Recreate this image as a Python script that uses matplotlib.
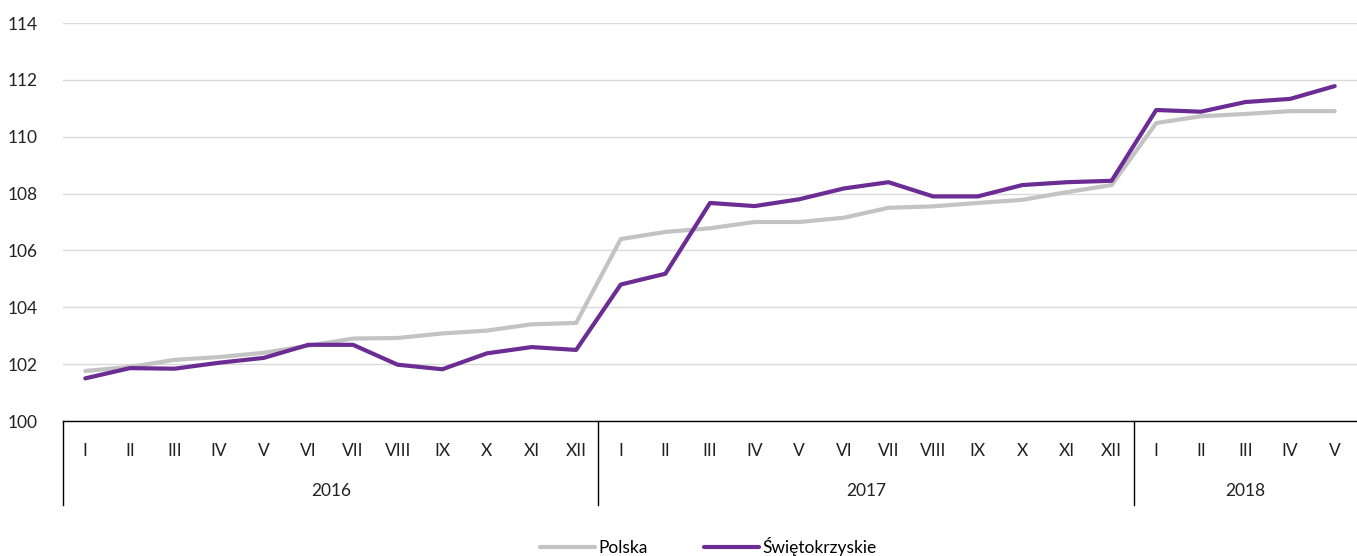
import matplotlib
matplotlib.use("Agg")
import matplotlib.pyplot as plt
import matplotlib.transforms as mtransforms
from matplotlib.lines import Line2D

plt.rcParams['font.family'] = ['Lato', 'DejaVu Sans']

# data
months = ['I', 'II', 'III', 'IV', 'V', 'VI', 'VII', 'VIII', 'IX', 'X', 'XI', 'XII',
          'I', 'II', 'III', 'IV', 'V', 'VI', 'VII', 'VIII', 'IX', 'X', 'XI', 'XII',
          'I', 'II', 'III', 'IV', 'V']
years = ['2016', '2017', '2018']
year_lengths = [12, 12, 5]

polska = [101.76, 101.9, 102.15, 102.25, 102.4, 102.65, 102.9, 102.92, 103.08, 103.18, 103.4, 103.45,
          106.4, 106.65, 106.78, 107.0, 107.0, 107.15, 107.5, 107.55, 107.67, 107.78, 108.05, 108.3,
          110.48, 110.72, 110.8, 110.9, 110.9]
swietokrzyskie = [101.5, 101.86, 101.84, 102.05, 102.22, 102.68, 102.68, 101.98, 101.82, 102.38, 102.6, 102.5,
                  104.8, 105.18, 107.67, 107.56, 107.8, 108.18, 108.4, 107.9, 107.9, 108.3, 108.4, 108.45,
                  110.94, 110.88, 111.22, 111.33, 111.78]

fig = plt.figure(figsize=(13.57, 5.56), dpi=100)
ax = fig.add_axes([63 / 1357, 1 - 421 / 556, 1 - 63 / 1357, 398 / 556])

x = list(range(len(months)))
ax.plot(x, polska, color='#c3c3c3', lw=3, label='Polska', solid_capstyle='round')
ax.plot(x, swietokrzyskie, color='#6b2c94', lw=3, label='Świętokrzyskie', solid_capstyle='round')

ax.set_xlim(-0.5, len(months) - 0.5)
ax.set_ylim(100, 114)
ax.set_yticks(range(100, 115, 2))
ax.tick_params(axis='y', length=0, pad=18, labelsize=12.5, labelcolor='#222222')
ax.grid(axis='y', color='#d9d9d9', lw=1)
ax.set_axisbelow(True)

ax.set_xticks(x)
ax.set_xticklabels(months)
ax.tick_params(axis='x', length=0, pad=16, labelsize=12.5, labelcolor='#222222')

for side in ['left', 'right', 'top']:
    ax.spines[side].set_visible(False)
ax.spines['bottom'].set_color('black')
ax.spines['bottom'].set_linewidth(1)

# year separators and labels under the month axis
trans = mtransforms.blended_transform_factory(ax.transData, ax.transAxes)
start = -0.5
bounds = [start]
for yr, n in zip(years, year_lengths):
    end = start + n
    ax.text((start + end) / 2, -0.175, yr, transform=trans, ha='center', va='center',
            fontsize=12.5, color='#222222')
    bounds.append(end)
    start = end
for b in bounds[:-1]:
    ax.add_line(Line2D([b, b], [0, -0.212], transform=trans, color='black', lw=1, clip_on=False))

fig.legend(loc='lower center', bbox_to_anchor=(0.522, -0.028), ncol=2, frameon=False,
           fontsize=12.5, handlelength=3.2, handletextpad=0.2, columnspacing=3.2)

fig.savefig('out.png', dpi=100)
